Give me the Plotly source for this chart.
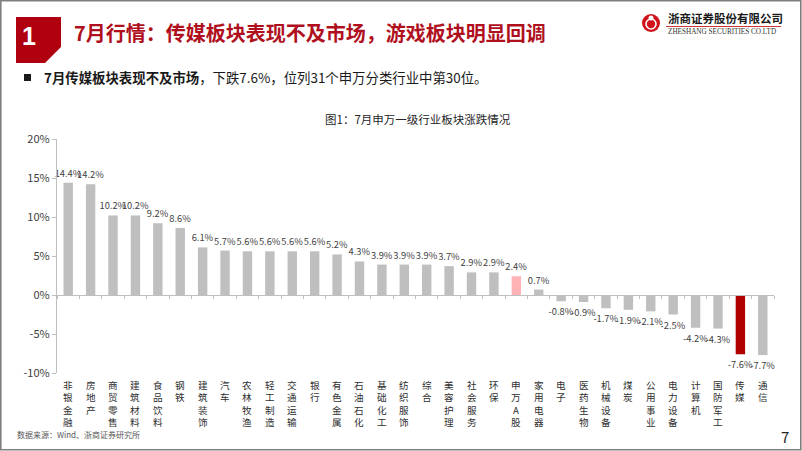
import plotly.graph_objects as go

categories = ["非银金融", "房地产", "商贸零售", "建筑材料", "食品饮料", "钢铁", "建筑装饰", "汽车",
              "农林牧渔", "轻工制造", "交通运输", "银行", "有色金属", "石油石化", "基础化工", "纺织服饰",
              "综合", "美容护理", "社会服务", "环保", "申万A股", "家用电器", "电子", "医药生物",
              "机械设备", "煤炭", "公用事业", "电力设备", "计算机", "国防军工", "传媒", "通信"]
values = [14.4, 14.2, 10.2, 10.2, 9.2, 8.6, 6.1, 5.7, 5.6, 5.6, 5.6, 5.6, 5.2, 4.3, 3.9, 3.9,
          3.9, 3.7, 2.9, 2.9, 2.4, 0.7, -0.8, -0.9, -1.7, -1.9, -2.1, -2.5, -4.2, -4.3, -7.6, -7.7]
highlight = {"申万A股": "#FFB3B5", "传媒": "#B00000"}
y_ticks = [-10, -5, 0, 5, 10, 15, 20]
y_ticktext = [f"{t}%" for t in y_ticks]

FONT = "Noto Sans CJK SC"
W, H = 802, 451
L, R, T, B = 57, 28, 139, 78
PW, PH = W - L - R, H - T - B


def px(x):
    return (x - L) / PW


def py(y):
    return (H - B - y) / PH


colors = [highlight.get(c, "#BFBFBF") for c in categories]

fig = go.Figure()
fig.add_trace(go.Bar(
    x=categories, y=values, marker=dict(color=colors, line=dict(width=0)),
    text=[f"{v:.1f}%" for v in values], textposition="outside",
    textfont=dict(family=FONT, size=9.3, color="#404040"),
    constraintext="none", cliponaxis=False, hoverinfo="skip",
))

annotations = []
# category labels, stacked vertically one character per line
for c in categories:
    annotations.append(dict(
        x=c, xref="x", y=0, yref="paper", text="<br>".join(c), showarrow=False,
        yanchor="top", xanchor="center", yshift=-4, borderpad=0,
        font=dict(family=FONT, size=9.6, color="#303030"),
    ))

# header texts
annotations += [
    dict(x=px(28.5), y=py(36), xref="paper", yref="paper", text="<b>1</b>", showarrow=False,
         font=dict(family="Liberation Sans", size=25, color="white"), xanchor="center", yanchor="middle"),
    dict(x=px(72), y=py(32), xref="paper", yref="paper",
         text="<b>7月行情：传媒板块表现不及市场，游戏板块明显回调</b>", showarrow=False,
         font=dict(family=FONT, size=20, color="#B0101E"), xanchor="left", yanchor="middle"),
    dict(x=px(42), y=py(77), xref="paper", yref="paper",
         text="<b>7月传媒板块表现不及市场</b>，下跌7.6%，位列31个申万分类行业中第30位。", showarrow=False,
         font=dict(family=FONT, size=13.4, color="#1A1A1A"), xanchor="left", yanchor="middle"),
    dict(x=px(418), y=py(119), xref="paper", yref="paper",
         text="图1：7月申万一级行业板块涨跌情况", showarrow=False,
         font=dict(family=FONT, size=11.5, color="#262626"), xanchor="center", yanchor="middle"),
    dict(x=px(15), y=py(434), xref="paper", yref="paper",
         text="数据来源：Wind、浙商证券研究所", showarrow=False,
         font=dict(family=FONT, size=8, color="#595959"), xanchor="left", yanchor="middle"),
    dict(x=px(785), y=py(436), xref="paper", yref="paper", text="7", showarrow=False,
         font=dict(family=FONT, size=15, color="#262626"), xanchor="center", yanchor="middle"),
    dict(x=px(666), y=py(18), xref="paper", yref="paper", text="<b>浙商证券股份有限公司</b>", showarrow=False,
         font=dict(family=FONT, size=11.5, color="#1A1A1A"), xanchor="left", yanchor="middle"),
    dict(x=px(666), y=py(32), xref="paper", yref="paper", text="ZHESHANG SECURITIES CO.LTD", showarrow=False,
         font=dict(family="Liberation Serif", size=7.2, color="#333333"), xanchor="left", yanchor="middle"),
]


def path(points):
    return "M " + " L ".join(f"{px(a)},{py(b)}" for a, b in points) + " Z"


shapes = [
    # page frame
    dict(type="rect", xref="paper", yref="paper", x0=px(0.8), x1=px(800.8), y0=py(0.8), y1=py(449.8),
         line=dict(color="#7F7F7F", width=1.6), layer="above"),
    # red number box with cut corner
    dict(type="path", xref="paper", yref="paper",
         path=path([(16, 17), (61, 17), (61, 47), (45, 63), (16, 63)]),
         fillcolor="#B00010", line=dict(width=0), layer="below"),
    # bullet square
    dict(type="rect", xref="paper", yref="paper", x0=px(24), x1=px(31), y0=py(74), y1=py(81),
         fillcolor="#1A1A1A", line=dict(width=0)),
    # logo circle
    dict(type="circle", xref="paper", yref="paper", x0=px(642), x1=px(660), y0=py(14), y1=py(32),
         fillcolor="#D0121B", line=dict(width=0)),
    dict(type="circle", xref="paper", yref="paper", x0=px(646), x1=px(656), y0=py(19), y1=py(29),
         fillcolor="rgba(0,0,0,0)", line=dict(color="white", width=1.6)),
    dict(type="circle", xref="paper", yref="paper", x0=px(648.5), x1=px(653.5), y0=py(15.5), y1=py(20.5),
         fillcolor="white", line=dict(width=0)),
    # logo underline
    dict(type="line", xref="paper", yref="paper", x0=px(666), x1=px(781), y0=py(26.5), y1=py(26.5),
         line=dict(color="#C00000", width=0.8)),
]

fig.update_layout(
    width=W, height=H, margin=dict(l=L, r=R, t=T, b=B, autoexpand=False),
    paper_bgcolor="white", plot_bgcolor="white", showlegend=False,
    bargap=0.58,
    font=dict(family=FONT, size=11, color="#404040"),
    xaxis=dict(type="category", anchor="free", position=1 / 3, showline=True, linecolor="#BFBFBF",
               linewidth=1.3, ticks="outside", tickson="boundaries", ticklen=3, tickcolor="#BFBFBF",
               showticklabels=False, showgrid=False, zeroline=False, fixedrange=True),
    yaxis=dict(range=[-10, 20], tickvals=y_ticks, ticktext=y_ticktext, showline=True, linecolor="#BFBFBF",
               linewidth=1.3, ticks="outside", ticklen=4, tickcolor="#BFBFBF", showgrid=False,
               zeroline=False, tickfont=dict(family=FONT, size=11, color="#404040"), fixedrange=True),
    annotations=annotations, shapes=shapes,
)

fig.write_html("out.html")
